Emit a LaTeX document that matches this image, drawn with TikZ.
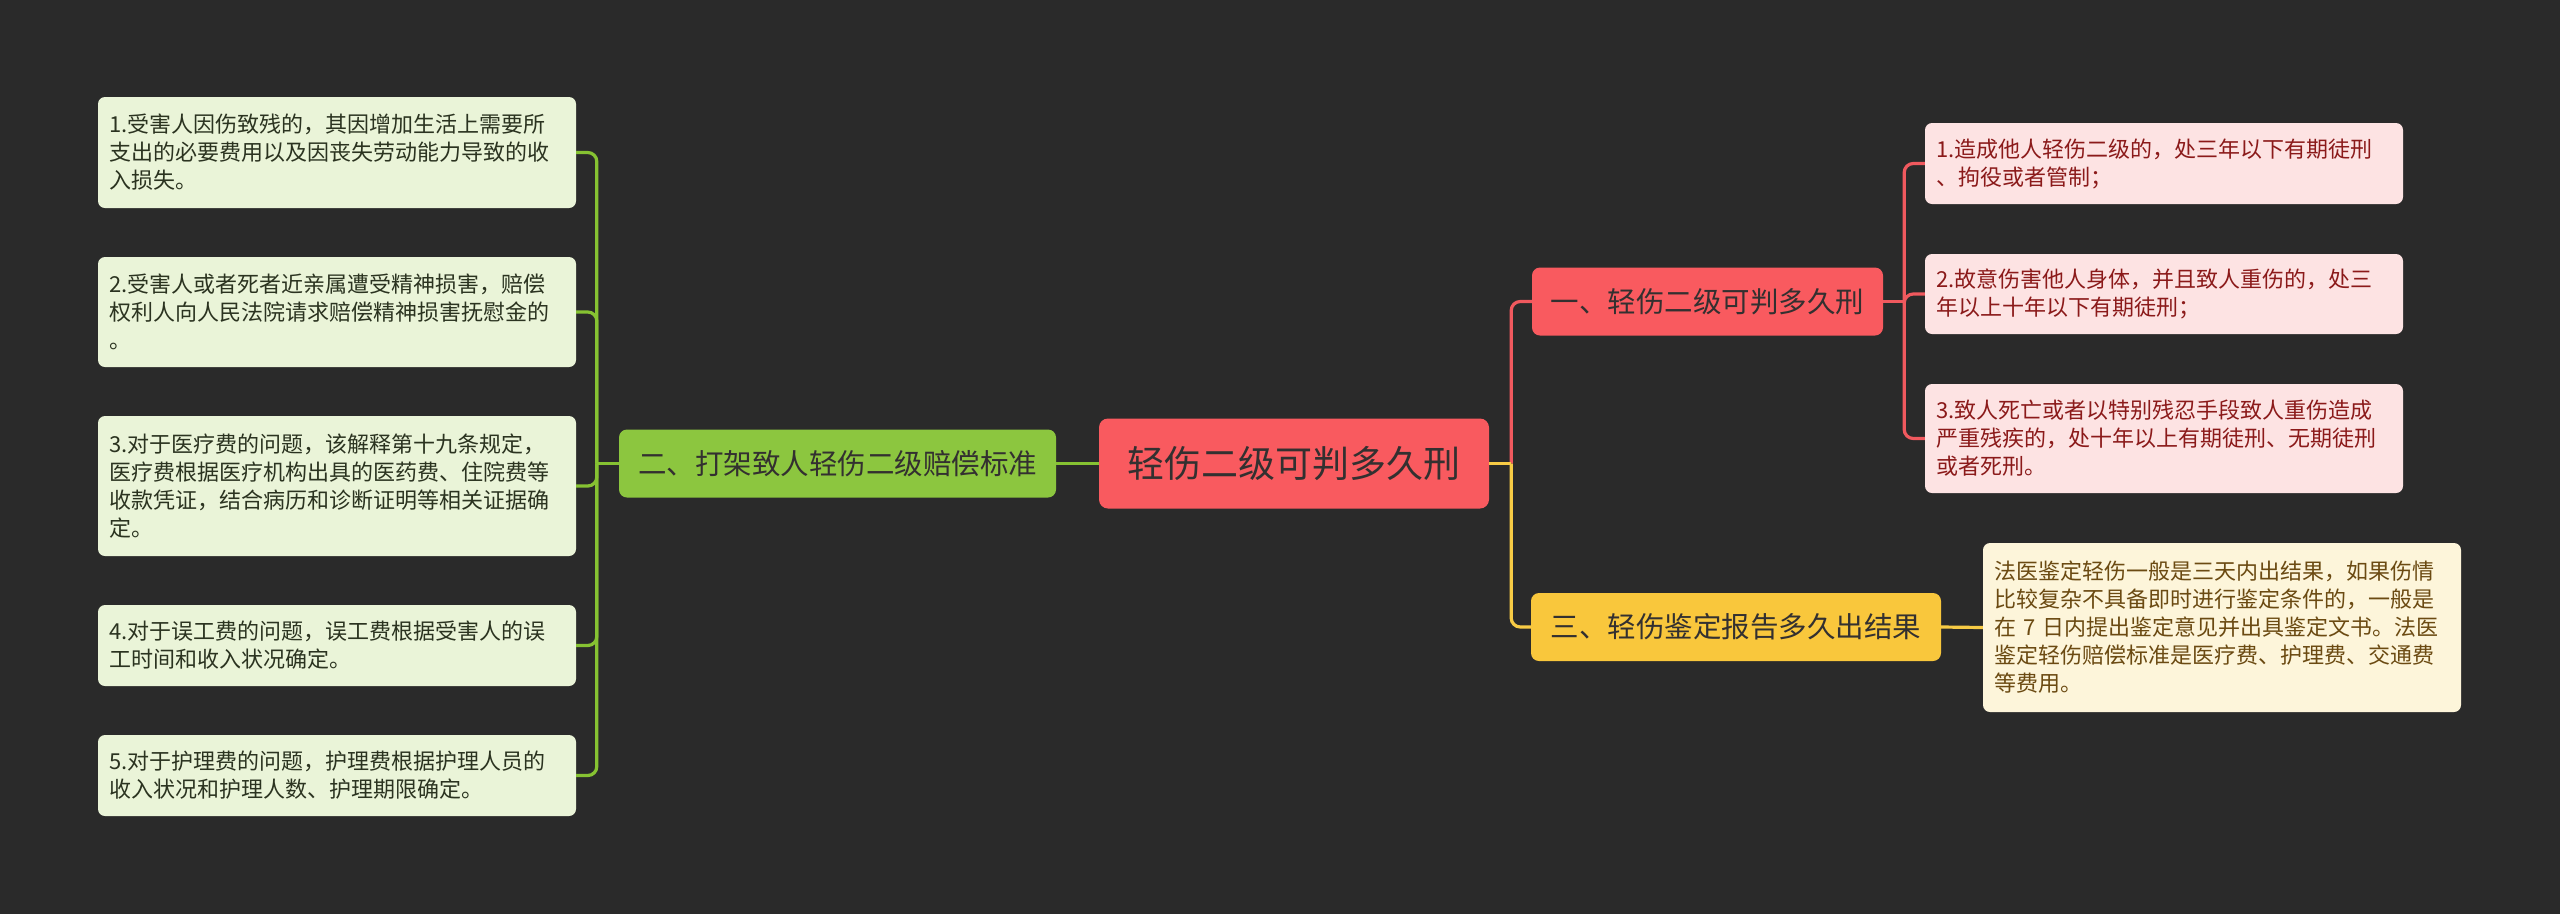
\documentclass[tikz,border=0pt]{standalone}
\usepackage{fontspec}
\setmainfont{Noto Sans CJK SC}
\definecolor{bg}{HTML}{2A2A2A}
\definecolor{rootc}{HTML}{F95A5F}
\definecolor{redl}{HTML}{F0595E}
\definecolor{redleaf}{HTML}{FDE3E3}
\definecolor{redtxt}{HTML}{8B1A1A}
\definecolor{grn}{HTML}{8CC63F}
\definecolor{grnl}{HTML}{86C232}
\definecolor{grnleaf}{HTML}{EAF4D8}
\definecolor{grntxt}{HTML}{2B3320}
\definecolor{yel}{HTML}{F9C73C}
\definecolor{yell}{HTML}{F7CB45}
\definecolor{yelleaf}{HTML}{FDF5DA}
\definecolor{yeltxt}{HTML}{6B4A12}
\definecolor{darktxt}{HTML}{333030}
\begin{document}
\begin{tikzpicture}[x=1pt,y=-1pt,
  rootbox/.style={fill=rootc, rounded corners=9, inner sep=0, minimum width=390, minimum height=90, text=darktxt, font=\fontsize{37}{44}\selectfont},
  branchbox/.style={rounded corners=8, inner sep=0, minimum height=68, text=darktxt, font=\fontsize{28.5}{34}\selectfont},
  leafbox/.style={rounded corners=7, inner xsep=11, inner ysep=0, text width=456, align=left, font=\fontsize{22}{28}\selectfont},
  gleaf/.style={leafbox, fill=grnleaf, text=grntxt},
  rleaf/.style={leafbox, fill=redleaf, text=redtxt},
  yleaf/.style={leafbox, fill=yelleaf, text=yeltxt},
  conn/.style={line width=3.2pt},
]
\useasboundingbox (0,0) rectangle (2560,914);
\fill[bg] (0,0) rectangle (2560,914);

% root and branches
\node[rootbox] (root) at (1294,463.5) {轻伤二级可判多久刑};
\node[branchbox, fill=grn, minimum width=437] (gb) at (837.5,463.5) {二、打架致人轻伤二级赔偿标准};
\node[branchbox, fill=rootc, minimum width=351] (rb) at (1707.5,301.5) {一、轻伤二级可判多久刑};
\node[branchbox, fill=yel, minimum width=410] (yb) at (1736,627) {三、轻伤鉴定报告多久出结果};

% left leaves
\node[gleaf, minimum height=111] (L1) at (337,152.5) {1.受害人因伤致残的，其因增加生活上需要所\\支出的必要费用以及因丧失劳动能力导致的收\\入损失。};
\node[gleaf, minimum height=110] (L2) at (337,312) {2.受害人或者死者近亲属遭受精神损害，赔偿\\权利人向人民法院请求赔偿精神损害抚慰金的\\。};
\node[gleaf, minimum height=140] (L3) at (337,486) {3.对于医疗费的问题，该解释第十九条规定，\\医疗费根据医疗机构出具的医药费、住院费等\\收款凭证，结合病历和诊断证明等相关证据确\\定。};
\node[gleaf, minimum height=81] (L4) at (337,645.5) {4.对于误工费的问题，误工费根据受害人的误\\工时间和收入状况确定。};
\node[gleaf, minimum height=81] (L5) at (337,775.5) {5.对于护理费的问题，护理费根据护理人员的\\收入状况和护理人数、护理期限确定。};

% right red leaves
\node[rleaf, minimum height=81] (R1) at (2164,163.5) {1.造成他人轻伤二级的，处三年以下有期徒刑\\、拘役或者管制；};
\node[rleaf, minimum height=80] (R2) at (2164,294) {2.故意伤害他人身体，并且致人重伤的，处三\\年以上十年以下有期徒刑；};
\node[rleaf, minimum height=109] (R3) at (2164,438.5) {3.致人死亡或者以特别残忍手段致人重伤造成\\严重残疾的，处十年以上有期徒刑、无期徒刑\\或者死刑。};

% yellow leaf
\node[yleaf, minimum height=169] (Y1) at (2222,627.5) {法医鉴定轻伤一般是三天内出结果，如果伤情\\比较复杂不具备即时进行鉴定条件的，一般是\\在 7 日内提出鉴定意见并出具鉴定文书。法医\\鉴定轻伤赔偿标准是医疗费、护理费、交通费\\等费用。};

% spine coordinates
\coordinate (gs) at ([xshift=-22]gb.west);
\coordinate (rs) at ([xshift=22]root.east);
\coordinate (rbs) at ([xshift=21]rb.east);

% left connectors
\draw[conn, grnl] (root.west) -- (gb.east);
\draw[conn, grnl] (gb.west) -- (gs);
\foreach \n in {L1,L2,L3,L4,L5}
  \draw[conn, grnl, rounded corners=9] (gs) |- (\n.east);

% right connectors
\draw[conn, redl, rounded corners=9] (rs) |- (rb.west);
\draw[conn, yell, rounded corners=9] (rs) |- (yb.west);
\draw[conn, yell] (root.east) -- (rs);
\draw[conn, redl] (rb.east) -- (rbs);
\foreach \n in {R1,R2,R3}
  \draw[conn, redl, rounded corners=9] (rbs) |- (\n.west);
\draw[conn, yell] (yb.east) -- (Y1.west);
\end{tikzpicture}
\end{document}
